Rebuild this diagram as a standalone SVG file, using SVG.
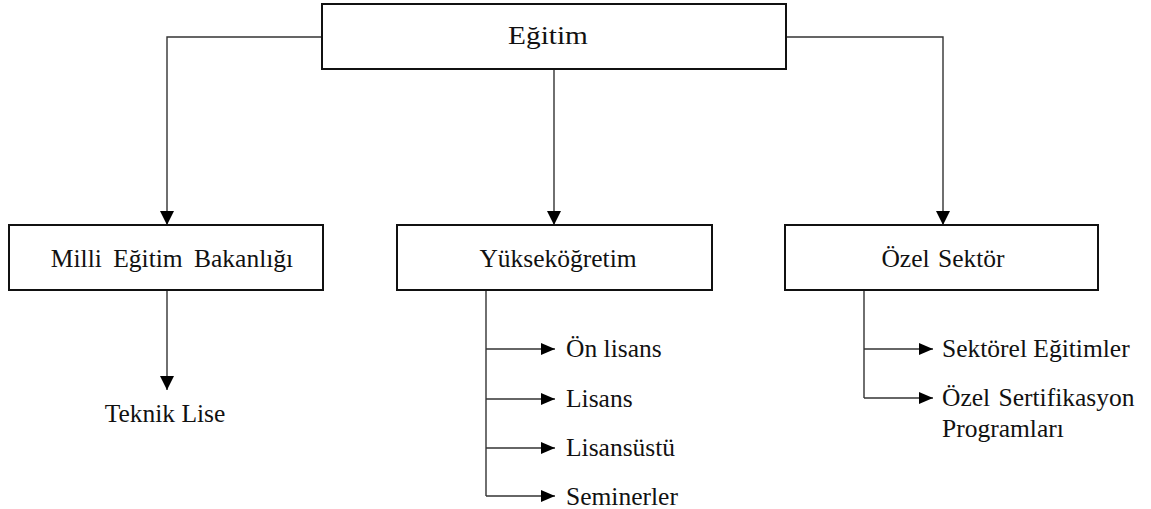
<svg xmlns="http://www.w3.org/2000/svg" width="1151" height="509" viewBox="0 0 1151 509">
  <defs>
    <marker id="arrow" viewBox="0 0 14 12" refX="14" refY="6" markerWidth="14" markerHeight="12" markerUnits="userSpaceOnUse" orient="auto">
      <path d="M0,0 L14,6 L0,12 Z" fill="#000"/>
    </marker>
    <marker id="arrowDown" viewBox="0 0 14 14" refX="14" refY="7" markerWidth="14" markerHeight="14" markerUnits="userSpaceOnUse" orient="auto">
      <path d="M0,0 L14,7 L0,14 Z" fill="#000"/>
    </marker>
  </defs>
  <style>
    .box { fill: #fff; stroke: #111; stroke-width: 2; }
    .wire { fill: none; stroke: #333; stroke-width: 1.4; }
    .down { marker-end: url(#arrowDown); }
    .side { marker-end: url(#arrow); }
  </style>
  <rect width="1151" height="509" fill="#fff"/>

  <g id="connectors">
    <path class="wire down" d="M322,37 H167 V225"/>
    <path class="wire down" d="M554,69 V225"/>
    <path class="wire down" d="M786,37 H943 V225"/>
    <path class="wire down" d="M167,290 V390"/>
    <path class="wire" d="M486,290 V496"/>
    <path class="wire side" d="M486,349 H555"/>
    <path class="wire side" d="M486,399 H555"/>
    <path class="wire side" d="M486,448 H555"/>
    <path class="wire side" d="M486,496 H555"/>
    <path class="wire" d="M864,290 V398"/>
    <path class="wire side" d="M864,349 H933"/>
    <path class="wire side" d="M864,398 H933"/>
  </g>

  <!-- labels use the Times-metric serif face; Turkish letters as character references -->
  <g font-family="Liberation Serif, serif" font-size="25.5" fill="#111">
    <g id="egitim">
      <rect class="box" x="322" y="4" width="464" height="65"/>
      <text transform="translate(548,44) scale(1.15,1)" text-anchor="middle">E&#287;itim</text>
    </g>

    <g id="meb">
      <rect class="box" x="9" y="225" width="314" height="65"/>
      <text x="172" y="267" text-anchor="middle" word-spacing="5">Milli E&#287;itim Bakanl&#305;&#287;&#305;</text>
    </g>

    <g id="yuksekogretim">
      <rect class="box" x="397" y="225" width="315" height="65"/>
      <text x="558" y="267" text-anchor="middle">Y&#252;ksek&#246;&#287;retim</text>
    </g>

    <g id="ozel-sektor">
      <rect class="box" x="785" y="225" width="313" height="65"/>
      <text x="943" y="267" text-anchor="middle" word-spacing="2">&#214;zel Sekt&#246;r</text>
    </g>

    <g id="teknik-lise">
      <text x="165" y="422" text-anchor="middle">Teknik Lise</text>
    </g>

    <g id="on-lisans"><text x="566" y="357">&#214;n lisans</text></g>
    <g id="lisans"><text x="566" y="407">Lisans</text></g>
    <g id="lisansustu"><text x="566" y="456">Lisans&#252;st&#252;</text></g>
    <g id="seminerler"><text x="566" y="505">Seminerler</text></g>

    <g id="sektorel-egitimler"><text x="942" y="357">Sekt&#246;rel E&#287;itimler</text></g>
    <g id="ozel-sertifikasyon">
      <text x="942" y="406" word-spacing="2">&#214;zel Sertifikasyon</text>
      <text x="942" y="437">Programlar&#305;</text>
    </g>
  </g>
</svg>
